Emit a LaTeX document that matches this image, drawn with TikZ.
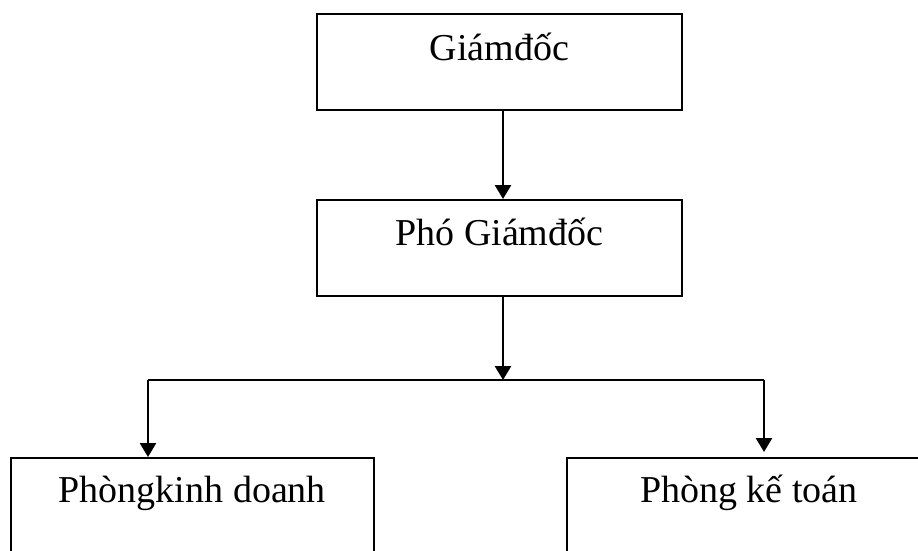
\documentclass[tikz,border=0pt]{standalone}
\usepackage{fontspec}
\setmainfont{Liberation Serif}
\usetikzlibrary{arrows.meta,calc}

\tikzset{
  orgbox/.style={draw=black, line width=1.8pt, rectangle, inner sep=0pt, anchor=north west},
  orgtext/.style={anchor=base, inner sep=0pt, font=\fontsize{38}{44}\selectfont},
  link/.style={draw=black, line width=2.6pt},
  arr/.style={link, -{Triangle[width=16pt,length=14pt]}}
}

\begin{document}
\begin{tikzpicture}[x=1pt, y=-1pt]
  \clip (0,0) rectangle (918,550);
  \fill[white] (0,0) rectangle (918,550);

  % boxes
  \node[orgbox, minimum width=365pt, minimum height=96pt] (gd)  at (316,13)  {};
  \node[orgbox, minimum width=365pt, minimum height=96pt] (pgd) at (316,199) {};
  \node[orgbox, minimum width=363pt, minimum height=130pt] (pkd) at (10,457)  {};
  \node[orgbox, minimum width=364pt, minimum height=130pt] (pkt) at (566,457) {};

  % box titles
  \node[orgtext] (tgd)  at ($(gd.north)+(0,47)$)  {Giámđốc};
  \node[orgtext] (tpgd) at ($(pgd.north)+(0,46)$) {Phó Giámđốc};
  \node[orgtext] (tpkd) at ($(pkd.north)+(0,45)$) {Phòngkinh doanh};
  \node[orgtext] (tpkt) at ($(pkt.north)+(0,45)$) {Phòng kế toán};

  % connector guides
  \coordinate (ax) at (503,0);
  \coordinate (j)  at (503,380);
  \coordinate (jl) at (148,380);
  \coordinate (jr) at (764,380);
  \coordinate (rt) at (764,452);

  % connectors
  \draw[arr] (gd.south -| ax) -- (pgd.north -| ax);
  \draw[arr] (pgd.south -| ax) -- (j);
  \draw[link] (jl) -- (jr);
  \draw[arr] (jl) -- (pkd.north -| jl);
  \draw[arr] (jr) -- (rt);
\end{tikzpicture}
\end{document}
